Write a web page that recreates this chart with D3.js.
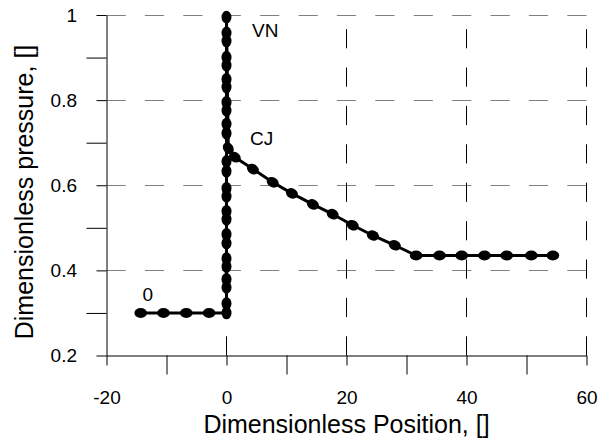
<!DOCTYPE html>
<html>
<head>
<meta charset="utf-8">
<script src="https://cdn.jsdelivr.net/npm/d3@7"></script>
<style>
  html, body { margin: 0; padding: 0; background: #fff; }
  svg { display: block; }
  text { font-family: "Liberation Sans", Arial, sans-serif; fill: #000; }
</style>
</head>
<body>
<svg id="chart" width="600" height="445"></svg>
<script>
// ---- data ----
const posX = [
  -14.3, -10.5, -6.7, -2.9, 0,
  0, 0, 0, 0, 0, 0, 0, 0, 0, 0, 0, 0, 0, 0, 0, 0, 0, 0, 0, 0, 0, 0, 0, 0,
  0.3,
  1.4, 4.4, 7.7, 10.9, 14.4, 17.7, 21.05, 24.4, 28.05,
  31.6, 35.5, 39.2, 43, 46.7, 50.8, 54.4
];
const pressure = [
  0.3, 0.3, 0.3, 0.3, 0.3,
  0.322, 0.360, 0.379, 0.409, 0.428, 0.464, 0.485, 0.520, 0.539, 0.574, 0.593,
  0.633, 0.656, 0.722, 0.744, 0.776, 0.795, 0.831, 0.849, 0.882, 0.901, 0.939, 0.958, 0.995,
  0.687,
  0.666, 0.638, 0.607, 0.581, 0.555, 0.532, 0.506, 0.482, 0.459,
  0.435, 0.435, 0.435, 0.435, 0.435, 0.435, 0.435
];
const xTicks = [-20, 0, 20, 40, 60];
const xTickLabels = ["-20", "0", "20", "40", "60"];
const xMinorTicks = [-10, 10, 30, 50];
const yTicks = [0.2, 0.4, 0.6, 0.8, 1];
const yTickLabels = ["0.2", "0.4", "0.6", "0.8", "1"];
const yMinorTicks = [0.3, 0.5, 0.7, 0.9];
const xGrid = [0, 20, 40, 60];
const yGrid = [0.4, 0.6, 0.8, 1];
const annotations = [
  { text: "0", x: -14, p: 0.328 },
  { text: "VN", x: 4.25, p: 0.949 },
  { text: "CJ", x: 3.92, p: 0.695 }
];
const xTitle = "Dimensionless Position, []";
const yTitle = "Dimensionless pressure, []";

// ---- drawing ----
const svg = d3.select("#chart");
const x = d3.scaleLinear().domain([-20, 60]).range([106.5, 586.5]);
const y = d3.scaleLinear().domain([0.2, 1]).range([355.5, 15]);

const dash = "19.2,19.2";

// horizontal grid (grey)
svg.append("g").selectAll("line").data(yGrid).join("line")
  .attr("x1", x(-20)).attr("x2", x(60))
  .attr("y1", d => Math.round(y(d)) + 0.5).attr("y2", d => Math.round(y(d)) + 0.5)
  .attr("stroke", "#808080").attr("stroke-width", 1)
  .attr("stroke-dasharray", dash);

// vertical grid (black), drawn from bottom up
svg.append("g").selectAll("line").data(xGrid).join("line")
  .attr("x1", d => x(d)).attr("x2", d => x(d))
  .attr("y1", y(0.2)).attr("y2", y(1))
  .attr("stroke", "#000").attr("stroke-width", 1)
  .attr("stroke-dasharray", dash);

// data line
const pts = posX.map((v, i) => [x(v), y(pressure[i])]);
svg.append("path")
  .attr("d", d3.line()(pts))
  .attr("fill", "none").attr("stroke", "#000").attr("stroke-width", 3)
  .attr("stroke-linejoin", "round");

// markers: ellipses oriented along the line direction
svg.append("g").selectAll("ellipse").data(pts).join("ellipse")
  .attr("cx", 0).attr("cy", 0)
  .attr("rx", 6.3).attr("ry", 5)
  .attr("fill", "#000")
  .attr("transform", (d, i) => {
    let a, b;
    if (i < pts.length - 1) { a = d; b = pts[i + 1]; } else { a = pts[i - 1]; b = d; }
    const ang = Math.atan2(b[1] - a[1], b[0] - a[0]) * 180 / Math.PI;
    return `translate(${d[0]},${d[1]}) rotate(${ang})`;
  });

// axes
const tickFont = "19px";
svg.append("g").attr("transform", `translate(${x(-20)},0)`)
  .call(d3.axisLeft(y).tickValues(yTicks).tickSize(10).tickSizeOuter(0).tickPadding(19.5)
    .tickFormat((d, i) => yTickLabels[i]));
svg.append("g").attr("transform", `translate(${x(-20)},0)`)
  .call(d3.axisLeft(y).tickValues(yMinorTicks).tickSize(20).tickSizeOuter(0).tickFormat(""))
  .call(g => g.select(".domain").remove());

svg.append("g").attr("transform", `translate(0,${y(0.2)})`)
  .call(d3.axisBottom(x).tickValues(xTicks).tickSize(10).tickSizeOuter(0).tickPadding(25)
    .tickFormat((d, i) => xTickLabels[i]));
svg.append("g").attr("transform", `translate(0,${y(0.2)})`)
  .call(d3.axisBottom(x).tickValues(xMinorTicks).tickSize(19).tickSizeOuter(0).tickFormat(""))
  .call(g => g.select(".domain").remove());

svg.selectAll(".tick text").style("font-size", tickFont)
  .style("font-family", '"Liberation Sans", Arial, sans-serif').attr("fill", "#000");
svg.selectAll(".domain, .tick line").attr("stroke", "#000").attr("stroke-width", 1);

// annotations
svg.append("g").selectAll("text").data(annotations).join("text")
  .attr("x", d => x(d.x)).attr("y", d => y(d.p))
  .style("font-size", "19px")
  .text(d => d.text);

// axis titles
svg.append("text")
  .attr("x", (x(-20) + x(60)) / 2).attr("y", 433)
  .attr("text-anchor", "middle").style("font-size", "25px")
  .text(xTitle);
svg.append("text")
  .attr("transform", "translate(33,192) rotate(-90)")
  .attr("text-anchor", "middle").style("font-size", "25px")
  .text(yTitle);
</script>
</body>
</html>
